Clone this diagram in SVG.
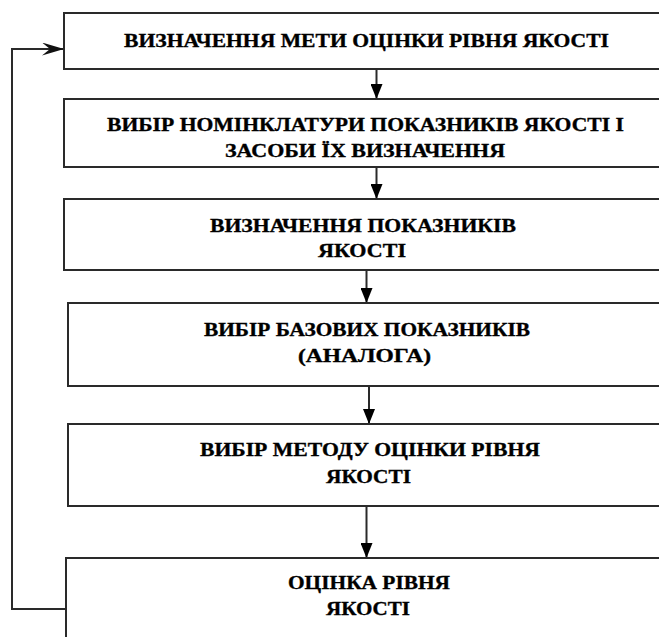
<svg xmlns="http://www.w3.org/2000/svg" width="659" height="637" viewBox="0 0 659 637">
<style>
.box{fill:#ffffff;stroke:#2a2a2a;stroke-width:2}
.lbl{font-weight:700;font-size:19px;fill:#000;stroke:#000;stroke-width:0.35;text-anchor:middle}
.con{fill:none;stroke:#2a2a2a;stroke-width:2}
</style>
<defs>
<marker id="ah" viewBox="0 0 15 12" refX="15" refY="6" markerWidth="15" markerHeight="12" markerUnits="userSpaceOnUse" orient="auto">
<path d="M0,0 L15,6 L0,12 z" fill="#000"/>
</marker>
<marker id="ab" viewBox="0 0 22 13" refX="22" refY="6.5" markerWidth="22" markerHeight="13" markerUnits="userSpaceOnUse" orient="auto">
<path d="M0,0 L22,6.5 L0,13 L8,6.5 z" fill="#111"/>
</marker>
</defs>
<rect width="659" height="637" fill="#fff"/>
<g id="connectors">
<line class="con" x1="376.5" y1="69" x2="376.5" y2="99" marker-end="url(#ah)"/>
<line class="con" x1="376.5" y1="167" x2="376.5" y2="199" marker-end="url(#ah)"/>
<line class="con" x1="366.5" y1="270" x2="366.5" y2="303" marker-end="url(#ah)"/>
<line class="con" x1="369" y1="386" x2="369" y2="424" marker-end="url(#ah)"/>
<line class="con" x1="366.5" y1="506" x2="366.5" y2="558" marker-end="url(#ah)"/>
<polyline class="con" points="66,609 12,609 12,49 64,49" marker-end="url(#ab)"/>
</g>
<g font-family="Liberation Serif, Tinos, Times New Roman, DejaVu Serif, serif">
<g id="n1">
<rect class="box" x="64" y="13" width="620" height="56"/>
<text class="lbl" x="366.5" y="47" textLength="485" lengthAdjust="spacingAndGlyphs">ВИЗНАЧЕННЯ МЕТИ ОЦІНКИ РІВНЯ ЯКОСТІ</text>
</g>
<g id="n2">
<rect class="box" x="64" y="99" width="620" height="68"/>
<text class="lbl" x="365.5" y="131" textLength="517" lengthAdjust="spacingAndGlyphs">ВИБІР НОМІНКЛАТУРИ ПОКАЗНИКІВ ЯКОСТІ І</text>
<text class="lbl" x="365" y="157" textLength="280" lengthAdjust="spacingAndGlyphs">ЗАСОБИ ЇХ ВИЗНАЧЕННЯ</text>
</g>
<g id="n3">
<rect class="box" x="64" y="199" width="620" height="71"/>
<text class="lbl" x="363" y="232" textLength="306" lengthAdjust="spacingAndGlyphs">ВИЗНАЧЕННЯ ПОКАЗНИКІВ</text>
<text class="lbl" x="362" y="257" textLength="88" lengthAdjust="spacingAndGlyphs">ЯКОСТІ</text>
</g>
<g id="n4">
<rect class="box" x="68" y="303" width="620" height="83"/>
<text class="lbl" x="367" y="336" textLength="326" lengthAdjust="spacingAndGlyphs">ВИБІР БАЗОВИХ ПОКАЗНИКІВ</text>
<text class="lbl" x="364.5" y="362" textLength="133" lengthAdjust="spacingAndGlyphs">(АНАЛОГА)</text>
</g>
<g id="n5">
<rect class="box" x="68" y="424" width="620" height="82"/>
<text class="lbl" x="370" y="456" textLength="340" lengthAdjust="spacingAndGlyphs">ВИБІР МЕТОДУ ОЦІНКИ РІВНЯ</text>
<text class="lbl" x="368.5" y="483" textLength="85" lengthAdjust="spacingAndGlyphs">ЯКОСТІ</text>
</g>
<g id="n6">
<rect class="box" x="66" y="558" width="620" height="100"/>
<text class="lbl" x="369" y="589" textLength="162" lengthAdjust="spacingAndGlyphs">ОЦІНКА РІВНЯ</text>
<text class="lbl" x="368" y="615" textLength="84" lengthAdjust="spacingAndGlyphs">ЯКОСТІ</text>
</g>
</g>
</svg>
